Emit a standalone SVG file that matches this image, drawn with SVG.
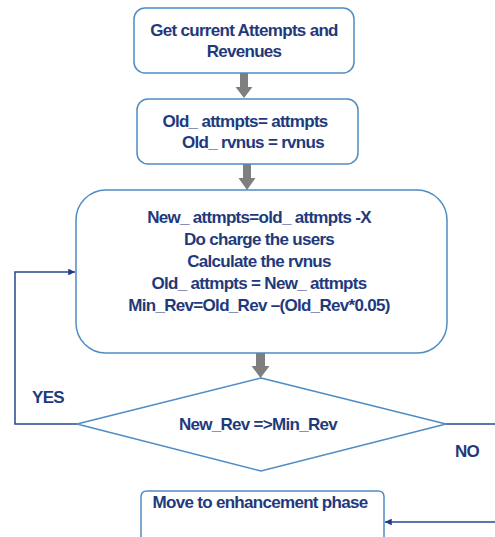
<svg xmlns="http://www.w3.org/2000/svg" width="495" height="537" viewBox="0 0 495 537">
<style>
.box{fill:#fff;stroke:#4f8cc4;stroke-width:1.5}
.t{font-family:"Liberation Sans",Arial,sans-serif;font-weight:bold;font-size:17px;fill:#1f3a7c;text-anchor:middle;letter-spacing:-0.7px}
.ln{fill:none;stroke:#2b4690;stroke-width:1.5}
.garrow{fill:#7f7f7f}
</style>
<defs>
<marker id="ah" viewBox="0 0 10 10" refX="10" refY="5" markerWidth="4.5" markerHeight="4.5" orient="auto" markerUnits="strokeWidth">
<path d="M0,0 L10,5 L0,10 z" fill="#1f3a8a"/>
</marker>
</defs>
<rect width="495" height="537" fill="#fff"/>
<g id="connectors">
<path class="garrow" d="M240,73 H248 V87 H252.5 L244,98 L235.5,87 H240 Z"/>
<path class="garrow" d="M243,164 H251 V178 H255.5 L247,190 L238.5,178 H243 Z"/>
<path class="garrow" d="M256,353 H265 V366 H269.5 L260.5,378 L251.5,366 H256 Z"/>
<path class="ln" d="M77,424 H15 V272 H75" marker-end="url(#ah)"/>
<path class="ln" d="M446,424 H495"/>
<path class="ln" d="M495,522 H385" marker-end="url(#ah)"/>
</g>
<g id="n1">
<rect class="box" x="134" y="8" width="220" height="65" rx="11"/>
<text class="t" x="244" y="36">Get current Attempts and</text>
<text class="t" x="244" y="57">Revenues</text>
</g>
<g id="n2">
<rect class="box" x="137" y="99" width="221" height="65" rx="11"/>
<text class="t" x="245" y="127">Old_ attmpts= attmpts</text>
<text class="t" x="253" y="148">Old_ rvnus = rvnus</text>
</g>
<g id="n3">
<rect class="box" x="76" y="190" width="371" height="163" rx="30"/>
<text class="t" x="259" y="223">New_ attmpts=old_ attmpts -X</text>
<text class="t" x="259" y="245">Do charge the users</text>
<text class="t" x="259" y="267">Calculate the rvnus</text>
<text class="t" x="259" y="289">Old_ attmpts = New_ attmpts</text>
<text class="t" x="259" y="311">Min_Rev=Old_Rev –(Old_Rev*0.05)</text>
</g>
<g id="n4">
<path class="box" d="M261,378 L446,424 L261,471 L77,424 Z"/>
<text class="t" x="258" y="430">New_Rev =&gt;Min_Rev</text>
</g>
<g id="n5">
<path class="box" d="M141,545 V497 Q141,491 147,491 H378 Q384,491 384,497 V545"/>
<text class="t" x="260" y="508">Move to enhancement phase</text>
</g>
<text class="t" x="48" y="403">YES</text>
<text class="t" x="467" y="457">NO</text>
</svg>
